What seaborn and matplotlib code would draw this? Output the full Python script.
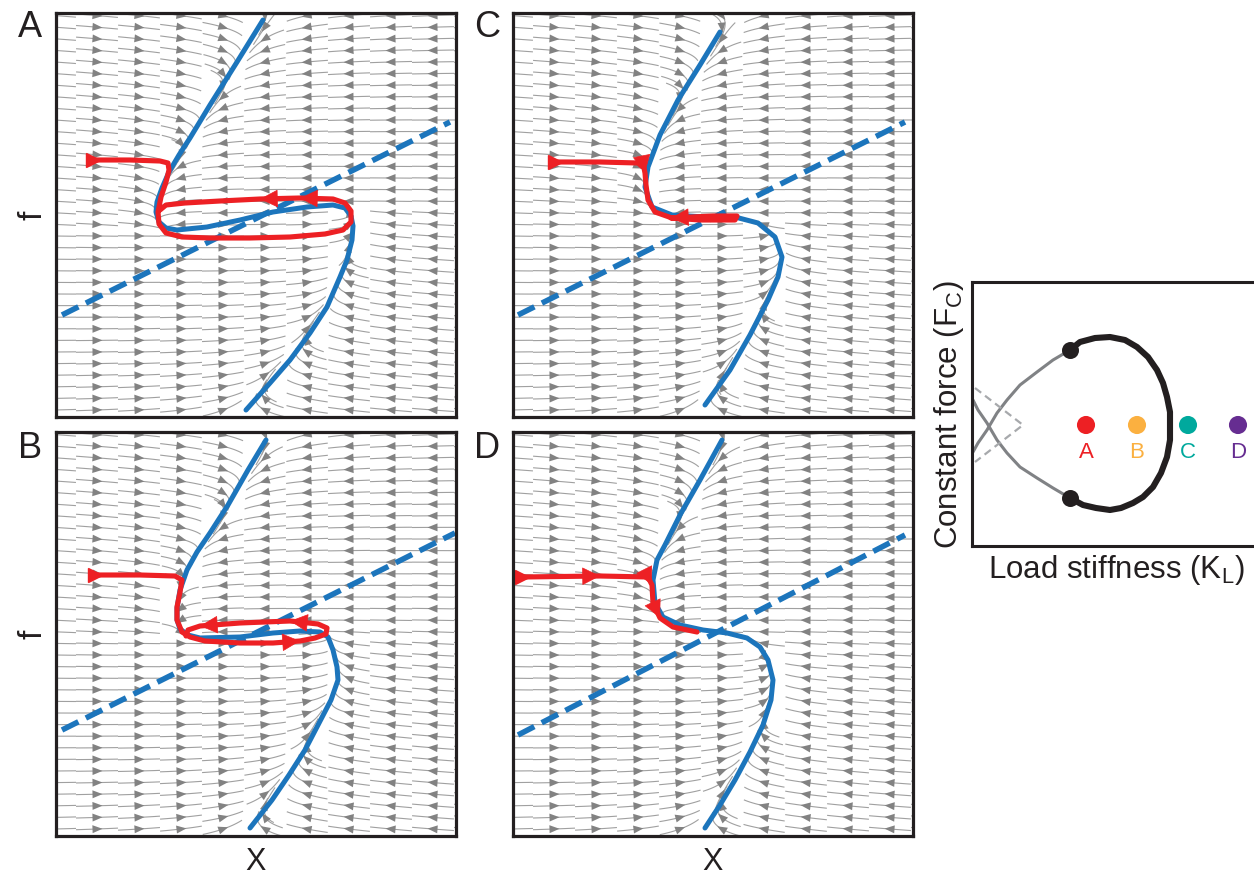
import numpy as np
import matplotlib
matplotlib.use("Agg")
import matplotlib.pyplot as plt
from matplotlib.collections import LineCollection, PolyCollection
import seaborn as sns

# ------------------------------------------------------------------
# Data (phase-plane units: X to the right, f upwards, panel box 400 x 404)
# ------------------------------------------------------------------
# Panel A
A_NULL_X = [207, 181, 154, 134, 123, 113, 106, 101, 100, 103, 110, 121, 151, 184, 217, 251, 277, 289, 295, 297, 296, 291, 284, 271, 254, 234, 214, 190]
A_NULL_F = [397, 355, 312, 279, 262, 245, 229, 215, 205, 195, 189, 187, 190, 197, 205, 210, 212, 209, 201, 191, 177, 157, 140, 110, 84, 57, 34, 7]
A_LINE_X = [6, 394]
A_LINE_F = [102, 295]
A_TRAJ_X = [37, 74, 104, 112, 113, 110, 105, 102, 103, 110, 126, 154, 194, 234, 269, 287, 295, 295, 289, 277, 244, 204, 164, 129, 110, 104]
A_TRAJ_F = [257, 257, 256, 254, 247, 235, 220, 205, 193, 184, 180, 179, 179, 180, 183, 187, 195, 206, 214, 218, 219, 218, 216, 214, 212, 207]
A_HEADS = [20, 21]

# Panel B
B_NULL_X = [210, 192, 172, 154, 141, 131, 124, 121, 121, 124, 132, 144, 184, 217, 244, 264, 272, 277, 281, 282, 275, 262, 249, 233, 216, 194]
B_NULL_F = [396, 366, 331, 303, 284, 266, 246, 228, 216, 207, 201, 198, 199, 203, 205, 204, 199, 186, 169, 156, 136, 111, 86, 61, 36, 8]
B_LINE_X = [6, 399]
B_LINE_F = [106, 303]
B_TRAJ_X = [39, 84, 119, 126, 124, 121, 121, 126, 134, 149, 184, 217, 244, 259, 270, 271, 262, 234, 184, 144, 132, 130]
B_TRAJ_F = [261, 261, 260, 256, 244, 229, 216, 204, 199, 195, 193, 193, 195, 198, 202, 208, 212, 215, 213, 210, 206, 200]
B_HEADS = [12, 17, 19]

# Panel C
C_NULL_X = [207, 187, 165, 147, 135, 132, 139, 159, 192, 222, 245, 262, 269, 265, 255, 237, 217, 192]
C_NULL_F = [385, 352, 317, 282, 250, 230, 210, 202, 200, 200, 194, 180, 160, 140, 117, 82, 47, 12]
C_LINE_X = [5, 392]
C_LINE_F = [102, 295]
C_TRAJ_X = [42, 87, 125, 131, 132, 133, 135, 142, 159, 187, 222, 224, 200, 158]
C_TRAJ_F = [255, 255, 254, 249, 244, 232, 217, 205, 199, 197, 197, 201, 201, 199]
C_HEADS = [4, 13]

# Panel D
D_NULL_X = [209, 187, 167, 152, 144, 140, 142, 150, 167, 190, 214, 234, 247, 255, 260, 258, 250, 237, 222, 207, 192]
D_NULL_F = [396, 356, 321, 291, 276, 256, 233, 219, 211, 206, 203, 198, 189, 176, 156, 136, 111, 84, 56, 31, 8]
D_LINE_X = [5, 392]
D_LINE_F = [101, 301]
D_TRAJ_X = [9, 87, 135, 139, 140, 147, 160, 184]
D_TRAJ_F = [259, 260, 259, 251, 233, 218, 209, 204]
D_HEADS = [1, 3, 5]

# Bifurcation diagram (units: load stiffness right, constant force up)
BIF_LOOP_X = [98, 108, 123, 138, 153, 165, 176, 185, 191, 195, 198, 198, 198, 195, 189, 181, 171, 161, 149, 138, 124, 111, 98]
BIF_LOOP_Y = [196, 204, 208, 209, 206, 199, 189, 176, 163, 149, 134, 121, 106, 89, 73, 59, 49, 43, 38, 36, 38, 41, 48]
BIF_UP_X = [98, 81, 65, 48, 35, 25, 15, 6, 1]
BIF_UP_Y = [196, 186, 174, 161, 146, 133, 116, 103, 94]
BIF_LO_X = [98, 81, 65, 48, 35, 25, 15, 6, 1]
BIF_LO_Y = [48, 58, 68, 79, 93, 106, 123, 136, 146]
BIF_DASH_X = [3, 51, 3]
BIF_DASH_Y = [158, 121, 84]
HOPF_X = [98, 98]
HOPF_Y = [196, 48]
CASE_NAMES = ["A", "B", "C", "D"]
CASE_K = [114, 165, 216, 266]
CASE_F = [121, 121, 121, 121]

# ------------------------------------------------------------------
# Style
# ------------------------------------------------------------------
RED = "#ed2024"
BLUE = "#1c75bc"
LINE_GREY = "#a0a0a0"
HEAD_GREY = "#828282"
INK = "#231f20"
CASE_COLORS = ["#ed2024", "#fbb040", "#00a99d", "#662d91"]

sns.set_theme(style="white")
plt.rcParams["font.family"] = ["Liberation Sans", "DejaVu Sans"]
plt.rcParams["mathtext.fontset"] = "custom"
plt.rcParams["mathtext.rm"] = "Liberation Sans"

W, H = 1254, 877
fig = plt.figure(figsize=(W / 100, H / 100), dpi=100)
PW, PH = 400, 404


def add_ax(l, t, r, b):
    return fig.add_axes([l / W, 1 - b / H, (r - l) / W, (b - t) / H])


def crossings(cx, cf, f):
    a_f, b_f = cf[:-1], cf[1:]
    m = ((a_f - f) * (b_f - f) < 0) | ((a_f == f) & (b_f != f))
    t = (f - a_f[m]) / (b_f[m] - a_f[m])
    return cx[:-1][m] + t * (cx[1:][m] - cx[:-1][m])


def fast_field(nx_, nf_, xg, fg):
    """X-velocity sampled on a grid: zero on the drawn X-nullcline."""
    cx = np.asarray(nx_, float)
    cf = np.asarray(nf_, float)
    s = cx[0] + (cx[0] - cx[1]) * 50, cf[0] + (cf[0] - cf[1]) * 50
    e = cx[-1] + (cx[-1] - cx[-2]) * 50, cf[-1] + (cf[-1] - cf[-2]) * 50
    cx = np.concatenate([[s[0]], cx, [e[0]]])
    cf = np.concatenate([[s[1]], cf, [e[1]]])
    U = np.zeros((len(fg), len(xg)))
    for j, f in enumerate(fg):
        xs = np.sort(crossings(cx, cf, f))
        if len(xs) == 0:
            continue
        nleft = (xs[None, :] < xg[:, None]).sum(1)
        sign = np.where(nleft % 2 == 0, 1.0, -1.0)
        d = np.abs(xg[:, None] - xs[None, :]).min(1)
        U[j] = sign * d
    return U


def bilinear(Z, xg, fg, x, f):
    gx = np.clip((x - xg[0]) / (xg[1] - xg[0]), 0, len(xg) - 1.001)
    gy = np.clip((f - fg[0]) / (fg[1] - fg[0]), 0, len(fg) - 1.001)
    i0 = gx.astype(int)
    j0 = gy.astype(int)
    tx = gx - i0
    ty = gy - j0
    return (Z[j0, i0] * (1 - tx) * (1 - ty) + Z[j0, i0 + 1] * tx * (1 - ty)
            + Z[j0 + 1, i0] * (1 - tx) * ty + Z[j0 + 1, i0 + 1] * tx * ty)


def flow_slices(ax, nx_, nf_, lx, lf):
    xg = np.linspace(0, PW, 241)
    fg = np.linspace(0, PH, 241)
    U = fast_field(nx_, nf_, xg, fg)
    slope = (lf[1] - lf[0]) / (lx[1] - lx[0])
    icpt = lf[0] - slope * lx[0]

    def direction(p):
        u = bilinear(U, xg, fg, p[:, 0], p[:, 1])
        v = 0.05 * (slope * p[:, 0] + icpt - p[:, 1])
        n = np.hypot(u, v)
        n = np.where(n < 1e-9, np.inf, n)
        return np.stack([u / n, v / n], axis=1)

    cols = np.arange(-1, 420, 42.0)
    rows = np.arange(7, PH, 11.6)
    CX, CF = np.meshgrid(cols, rows)
    seeds = np.stack([CX.ravel(), CF.ravel()], axis=1)
    half, step = 21, 1.0
    fwd, bwd = [seeds.copy()], [seeds.copy()]
    p, q = seeds.copy(), seeds.copy()
    for _ in range(half):
        p = p + step * direction(p)
        q = q - step * direction(q)
        fwd.append(p.copy())
        bwd.append(q.copy())
    paths = np.concatenate([np.array(bwd[::-1]), np.array(fwd[1:])], axis=0)
    segs = [paths[:, k, :] for k in range(paths.shape[1])]
    ax.add_collection(LineCollection(segs, colors=LINE_GREY, linewidths=0.8, zorder=1))
    d0 = direction(seeds)
    nrm = np.stack([-d0[:, 1], d0[:, 0]], axis=1)
    keep = (seeds[:, 0] > 10) & (seeds[:, 0] < PW - 8)
    tips = seeds + 5.5 * d0
    b1 = seeds - 4.5 * d0 + 4.0 * nrm
    b2 = seeds - 4.5 * d0 - 4.0 * nrm
    tris = np.stack([tips, b1, b2], axis=1)[keep]
    ax.add_collection(PolyCollection(list(tris), facecolors=HEAD_GREY,
                                     edgecolors="none", zorder=2))


def phase_panel(ax, nx_, nf_, lx, lf, tx, tf, heads):
    flow_slices(ax, nx_, nf_, lx, lf)
    sns.lineplot(x=lx, y=lf, ax=ax, color=BLUE, linewidth=4.0, sort=False,
                 estimator=None, zorder=3)
    ax.lines[-1].set_dashes((3.3, 1.5))
    ax.lines[-1].set_dash_capstyle("butt")
    sns.lineplot(x=nx_, y=nf_, ax=ax, color=BLUE, linewidth=3.6, sort=False,
                 estimator=None, zorder=4)
    ax.lines[-1].set_solid_joinstyle("round")
    sns.lineplot(x=tx, y=tf, ax=ax, color=RED, linewidth=3.7, sort=False,
                 estimator=None, zorder=5)
    ax.lines[-1].set_solid_joinstyle("round")
    ax.plot([tx[0]], [tf[0]], marker=">", color=RED, markersize=10, zorder=6)
    for i in heads:
        dx, dy = tx[i] - tx[i - 1], tf[i] - tf[i - 1]
        n = np.hypot(dx, dy)
        ax.annotate("", xy=(tx[i], tf[i]), xytext=(tx[i] - dx / n, tf[i] - dy / n),
                    arrowprops=dict(arrowstyle="-|>,head_length=0.7,head_width=0.35",
                                    color=RED, lw=0.5, shrinkA=0, shrinkB=0,
                                    mutation_scale=17), zorder=6)
    ax.set_xlim(0, PW)
    ax.set_ylim(0, PH)
    ax.set_xticks([])
    ax.set_yticks([])
    ax.set_xlabel("")
    ax.set_ylabel("")
    for s in ax.spines.values():
        s.set_visible(True)
        s.set_color(INK)
        s.set_linewidth(2.3)
        s.set_zorder(10)


axA = add_ax(56, 13, 456, 417)
axC = add_ax(513, 13, 913, 417)
axB = add_ax(56, 432, 456, 836)
axD = add_ax(513, 432, 913, 836)
phase_panel(axA, A_NULL_X, A_NULL_F, A_LINE_X, A_LINE_F, A_TRAJ_X, A_TRAJ_F, A_HEADS)
phase_panel(axB, B_NULL_X, B_NULL_F, B_LINE_X, B_LINE_F, B_TRAJ_X, B_TRAJ_F, B_HEADS)
phase_panel(axC, C_NULL_X, C_NULL_F, C_LINE_X, C_LINE_F, C_TRAJ_X, C_TRAJ_F, C_HEADS)
phase_panel(axD, D_NULL_X, D_NULL_F, D_LINE_X, D_LINE_F, D_TRAJ_X, D_TRAJ_F, D_HEADS)

for lab, px, py in [("A", 30, 37), ("C", 487, 37), ("B", 30, 458), ("D", 487, 458)]:
    fig.text(px / W, 1 - py / H, lab, ha="center", va="baseline", fontsize=26, color=INK)
for py in (215, 634):
    fig.text(42 / W, 1 - py / H, "f", rotation=90, rotation_mode="anchor",
             ha="center", va="baseline", fontsize=24, color=INK)
for px in (256, 713):
    fig.text(px / W, 1 - 870 / H, "X", ha="center", va="baseline", fontsize=22, color=INK)

# bifurcation diagram
axE = add_ax(972, 282, 1262, 546)
sns.lineplot(x=BIF_UP_X, y=BIF_UP_Y, ax=axE, color="#808285", linewidth=2.2,
             sort=False, estimator=None)
sns.lineplot(x=BIF_LO_X, y=BIF_LO_Y, ax=axE, color="#808285", linewidth=2.2,
             sort=False, estimator=None)
sns.lineplot(x=BIF_DASH_X, y=BIF_DASH_Y, ax=axE, color="#a7a9ac", linewidth=1.6,
             sort=False, estimator=None)
axE.lines[-1].set_dashes((3.5, 2.2))
sns.lineplot(x=BIF_LOOP_X, y=BIF_LOOP_Y, ax=axE, color=INK, linewidth=4.4,
             sort=False, estimator=None)
sns.scatterplot(x=HOPF_X, y=HOPF_Y, ax=axE, color=INK, s=150, linewidth=0, zorder=5)
sns.scatterplot(x=CASE_K, y=CASE_F, hue=CASE_NAMES, palette=CASE_COLORS, ax=axE,
                s=170, linewidth=0, legend=False, zorder=5)
for name, k, f, c in zip(CASE_NAMES, CASE_K, CASE_F, CASE_COLORS):
    axE.text(k, f - 33, name, ha="center", va="baseline", fontsize=16, color=c)
axE.set_xlim(0, 290)
axE.set_ylim(0, 264)
axE.set_xticks([])
axE.set_yticks([])
axE.set_xlabel("")
axE.set_ylabel("")
for side, s in axE.spines.items():
    s.set_color(INK)
    s.set_linewidth(2.2)
    s.set_visible(side != "right")

fig.text(1116 / W, 1 - 578 / H, r"Load stiffness (K$_{\mathregular{L}}$)", ha="center",
         va="baseline", fontsize=22.5, color=INK)
fig.text(957 / W, 1 - 415 / H, r"Constant force (F$_{\mathregular{C}}$)", rotation=90,
         rotation_mode="anchor", ha="center", va="baseline", fontsize=22.5, color=INK)

fig.savefig("out.png", dpi=100)
